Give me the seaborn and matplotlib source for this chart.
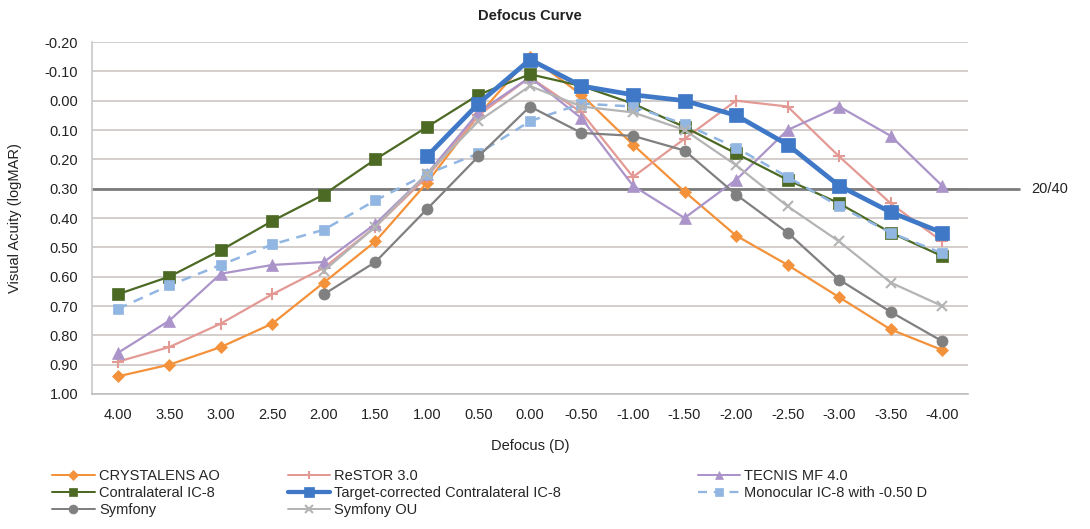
import numpy as np
import pandas as pd
import seaborn as sns
import matplotlib.pyplot as plt
from matplotlib.lines import Line2D


DEFOCUS = ['4.00', '3.50', '3.00', '2.50', '2.00', '1.50', '1.00', '0.50', '0.00',
           '-0.50', '-1.00', '-1.50', '-2.00', '-2.50', '-3.00', '-3.50', '-4.00']

crystalens = [0.94, 0.90, 0.84, 0.76, 0.62, 0.48, 0.28, 0.05, -0.15,
              -0.02, 0.15, 0.31, 0.46, 0.56, 0.67, 0.78, 0.85]
restor = [0.89, 0.84, 0.76, 0.66, 0.57, 0.43, 0.26, 0.05, -0.08,
          0.04, 0.26, 0.13, 0.00, 0.02, 0.19, 0.35, 0.48]
tecnis = [0.86, 0.75, 0.59, 0.56, 0.55, 0.42, 0.25, 0.04, -0.08,
          0.06, 0.29, 0.40, 0.27, 0.10, 0.02, 0.12, 0.29]
contralateral = [0.66, 0.60, 0.51, 0.41, 0.32, 0.20, 0.09, -0.02, -0.09,
                 -0.05, 0.01, 0.09, 0.18, 0.27, 0.35, 0.45, 0.53]
target = [None, None, None, None, None, None, 0.19, 0.01, -0.14,
          -0.05, -0.02, 0.00, 0.05, 0.15, 0.29, 0.38, 0.45]
monocular = [0.71, 0.63, 0.56, 0.49, 0.44, 0.34, 0.25, 0.18, 0.07,
             0.01, 0.02, 0.08, 0.16, 0.26, 0.36, 0.45, 0.52]
symfony = [None, None, None, None, 0.66, 0.55, 0.37, 0.19, 0.02,
           0.11, 0.12, 0.17, 0.32, 0.45, 0.61, 0.72, 0.82]
symfony_ou = [None, None, None, None, 0.58, 0.43, 0.25, 0.07, -0.05,
              0.02, 0.04, 0.10, 0.22, 0.36, 0.48, 0.62, 0.70]

# name, values, color, marker, markersize, linewidth, linestyle
SERIES = [
    ('CRYSTALENS AO', crystalens, '#F3923A', 'D', 6.5, 1.6, '-'),
    ('ReSTOR 3.0', restor, '#E39A95', '+', 8, 1.6, '-'),
    ('TECNIS MF 4.0', tecnis, '#AB94C9', '^', 8, 1.6, '-'),
    ('Contralateral IC-8', contralateral, '#4C6A24', 's', 8, 1.6, '-'),
    ('Target-corrected Contralateral IC-8', target, '#3E78C6', 's', 9.5, 3.4, '-'),
    ('Monocular IC-8 with -0.50 D', monocular, '#92B6E2', 's', 7, 1.8, (0, (4, 3))),
    ('Symfony', symfony, '#808080', 'o', 8, 1.6, '-'),
    ('Symfony OU', symfony_ou, '#B4B4B4', 'x', 7, 1.6, '-'),
]

sns.set_theme(style='white')
plt.rcParams['font.family'] = ['Liberation Sans', 'DejaVu Sans']

fig, ax = plt.subplots(figsize=(10.9, 5.29), dpi=100)
plt.subplots_adjust(left=0.0844, right=0.888, top=0.9206, bottom=0.2552)

# Gridlines and 20/40 reference line
for v in np.arange(-0.2, 1.01, 0.1):
    ax.axhline(v, color='#D3CDCB', lw=1.4, zorder=0)
ax.axhline(0.30, xmin=0, xmax=1.058, color='#7C7C7C', lw=2.0, zorder=1, clip_on=False)
ax.text(1.072, 0.30, '20/40', transform=ax.get_yaxis_transform(),
        va='center', ha='left', fontsize=10.5, color='#222222')

handles = {}
for name, vals, color, marker, ms, lw, ls in SERIES:
    df = pd.DataFrame({'x': np.arange(len(DEFOCUS)), 'y': vals}).dropna()
    sns.lineplot(data=df, x='x', y='y', ax=ax, color=color, marker=marker,
                 markersize=ms, linewidth=lw, linestyle=ls,
                 markeredgecolor=color, markeredgewidth=1.5 if marker in '+x' else 0.5,
                 zorder=3)
    handles[name] = Line2D([], [], color=color, marker=marker, markersize=ms * 0.8,
                           linewidth=lw * 0.9, linestyle=ls, markeredgecolor=color,
                           markeredgewidth=1.5 if marker in '+x' else 0.5)

ax.set_xlim(-0.5, len(DEFOCUS) - 0.5)
ax.set_ylim(1.0, -0.2)
ax.set_xticks(np.arange(len(DEFOCUS)))
ax.set_xticklabels(DEFOCUS)
ax.set_xticks(np.arange(-0.5, len(DEFOCUS), 1.0), minor=True)
ax.set_yticks(np.round(np.arange(-0.2, 1.01, 0.1), 2))
ax.set_yticklabels([f'{v:.2f}' for v in np.arange(-0.2, 1.01, 0.1)])
ax.tick_params(axis='x', which='major', length=0, pad=10, labelsize=10.5, colors='#222222')
ax.tick_params(axis='x', which='minor', length=5, width=1, color='#BFBFBF', direction='out')
ax.tick_params(axis='y', length=6, width=1, color='#C8C8C8', direction='out',
               labelsize=10.5, colors='#222222', pad=4)
ax.tick_params(axis='y', colors='#C8C8C8', labelcolor='#222222')

sns.despine(ax=ax, top=True, right=True)
ax.spines['left'].set_color('#C8C8C8')
ax.spines['bottom'].set_color('#BFBFBF')
ax.spines['left'].set_linewidth(1.2)
ax.spines['bottom'].set_linewidth(1.2)

ax.set_title('Defocus Curve', fontsize=10.5, fontweight='bold', pad=16, color='#222222')
ax.set_xlabel('Defocus (D)', fontsize=10.5, labelpad=12, color='#222222')
ax.set_ylabel('Visual Acuity (logMAR)', fontsize=10.5, labelpad=16, color='#222222')

# Legend in three columns placed like the source
columns = [
    (['CRYSTALENS AO', 'Contralateral IC-8', 'Symfony'], 0.048),
    (['ReSTOR 3.0', 'Target-corrected Contralateral IC-8', 'Symfony OU'], 0.264),
    (['TECNIS MF 4.0', 'Monocular IC-8 with -0.50 D'], 0.640),
]
for names, xpos in columns:
    leg = fig.legend([handles[n] for n in names], names, loc='upper left',
                     bbox_to_anchor=(xpos, 0.113), frameon=False, ncol=1,
                     handlelength=2.9, handletextpad=0.3,
                     labelspacing=0.2, borderpad=0, borderaxespad=0,
                     prop={'family': ['Liberation Sans', 'DejaVu Sans'], 'size': 10.5})

fig.savefig('out.png', dpi=100)
